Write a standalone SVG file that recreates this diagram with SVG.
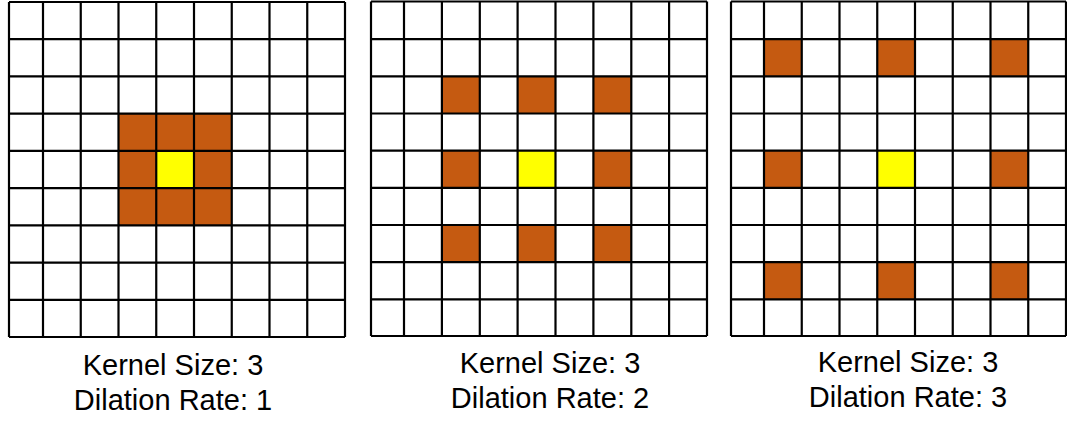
<svg xmlns="http://www.w3.org/2000/svg" width="1067" height="423" viewBox="0 0 1067 423">
<style>
.bg{fill:#ffffff}
.k{fill:#C55A11}
.c{fill:#FFFF00}
.g{fill:none;stroke:#000000;stroke-width:2.2}
.t{font-family:"Liberation Sans",Arial,sans-serif;font-size:29px;fill:#000000;text-anchor:middle}
</style>
<rect class="bg" x="0" y="0" width="1067" height="423"/>
<g id="grid1">
<rect class="k" x="118.5" y="113.7" width="113.25" height="111.6"/>
<rect class="c" x="156.25" y="150.9" width="37.75" height="37.2"/>
<path class="g" d="M9 2V337M43 2V337M80.75 2V337M118.5 2V337M156.25 2V337M194 2V337M231.75 2V337M269.5 2V337M307.25 2V337M345 2V337M9 2H345M9 39.2H345M9 76.4H345M9 113.7H345M9 150.9H345M9 188.1H345M9 225.3H345M9 262.6H345M9 299.8H345M9 337H345"/>
<text class="t" x="173" y="375">Kernel Size: 3</text>
<text class="t" x="173" y="410">Dilation Rate: 1</text>
</g>
<g id="grid2">
<rect class="k" x="441.9" y="76.3" width="37.9" height="37.2"/>
<rect class="k" x="517.6" y="76.3" width="37.9" height="37.2"/>
<rect class="k" x="593.4" y="76.3" width="37.9" height="37.2"/>
<rect class="k" x="441.9" y="150.6" width="37.9" height="37.2"/>
<rect class="c" x="517.6" y="150.6" width="37.9" height="37.2"/>
<rect class="k" x="593.4" y="150.6" width="37.9" height="37.2"/>
<rect class="k" x="441.9" y="225" width="37.9" height="37.2"/>
<rect class="k" x="517.6" y="225" width="37.9" height="37.2"/>
<rect class="k" x="593.4" y="225" width="37.9" height="37.2"/>
<path class="g" d="M371 1.5V336M404 1.5V336M441.9 1.5V336M479.8 1.5V336M517.6 1.5V336M555.5 1.5V336M593.4 1.5V336M631.3 1.5V336M669.1 1.5V336M707 1.5V336M371 1.5H707M371 39.1H707M371 76.3H707M371 113.5H707M371 150.6H707M371 187.8H707M371 225H707M371 262.2H707M371 299.4H707M371 336H707"/>
<text class="t" x="550" y="373">Kernel Size: 3</text>
<text class="t" x="550" y="408">Dilation Rate: 2</text>
</g>
<g id="grid3">
<rect class="k" x="764" y="39.1" width="37.75" height="37.2"/>
<rect class="k" x="877.25" y="39.1" width="37.75" height="37.2"/>
<rect class="k" x="990.5" y="39.1" width="37.75" height="37.2"/>
<rect class="k" x="764" y="150.6" width="37.75" height="37.2"/>
<rect class="c" x="877.25" y="150.6" width="37.75" height="37.2"/>
<rect class="k" x="990.5" y="150.6" width="37.75" height="37.2"/>
<rect class="k" x="764" y="262.2" width="37.75" height="37.2"/>
<rect class="k" x="877.25" y="262.2" width="37.75" height="37.2"/>
<rect class="k" x="990.5" y="262.2" width="37.75" height="37.2"/>
<path class="g" d="M731 1.5V336M764 1.5V336M801.75 1.5V336M839.5 1.5V336M877.25 1.5V336M915 1.5V336M952.75 1.5V336M990.5 1.5V336M1028.25 1.5V336M1066 1.5V336M731 1.5H1066M731 39.1H1066M731 76.3H1066M731 113.5H1066M731 150.6H1066M731 187.8H1066M731 225H1066M731 262.2H1066M731 299.4H1066M731 336H1066"/>
<text class="t" x="908" y="372">Kernel Size: 3</text>
<text class="t" x="908" y="407">Dilation Rate: 3</text>
</g>
</svg>
